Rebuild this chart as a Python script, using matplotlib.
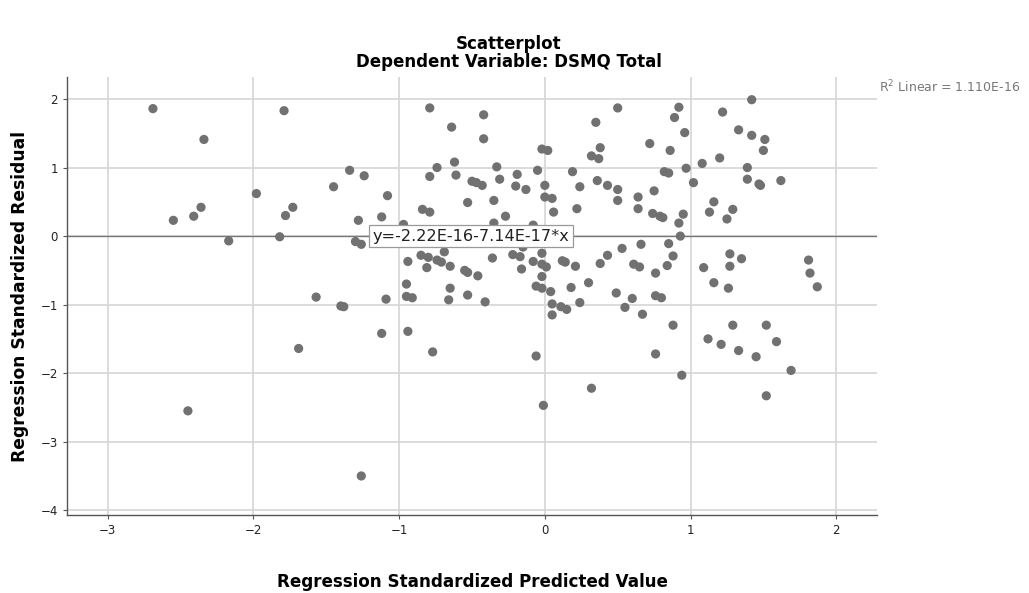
import matplotlib
matplotlib.use("Agg")
import matplotlib.pyplot as plt
import numpy as np

# standardized predicted values (x) and standardized residuals (y)
pred = [
    -2.69, -1.79, -2.34, -1.34, -1.24, -1.45, -1.08, -1.98, -1.73, -1.78,
    -2.36, -2.41, -2.55, -1.28, -1.12, -2.17, -1.82, -1.30, -1.26, -0.97,
    -0.94, -0.95, -0.95, -0.91, -1.57, -1.40, -1.38, -1.09, -1.12, -0.94,
    -1.69, -2.45, -1.26,
    -0.79, -0.42, -0.64, -0.42, 0.50, 0.35, 0.38, 0.32, 0.37, -0.02,
    0.02, -0.62, -0.74, -0.79, -0.61, -0.33, -0.05, 0.19, -0.50, -0.47,
    -0.43, -0.31, -0.19, -0.20, -0.13, 0.00, 0.24, 0.36, 0.43, 0.50,
    0.50, 0.00, 0.05, 0.06, 0.22, -0.53, -0.35, -0.27, -0.84, -0.79,
    -0.35, -0.08, 0.64, 0.64,
    -0.69, -0.85, -0.80, -0.74, -0.71, -0.81, -0.65, -0.55, -0.53, -0.46,
    -0.36, -0.22, -0.17, -0.15, -0.02, -0.08, -0.02, 0.01, -0.16, -0.02,
    -0.06, -0.02, 0.04, 0.05, 0.05, -0.65, -0.66, -0.53, -0.41, -0.77,
    -0.06, -0.01, 0.32,
    0.75, 0.74, 0.79, 0.81, 0.82, 0.85, 0.97, 1.08, 1.02, 1.16,
    1.13, 0.95, 0.92, 0.93, 0.85, 0.88, 0.84, 0.76, 0.66, 0.53,
    0.43, 0.38, 0.61, 0.65, 0.12, 0.14, 0.21, 0.30, 0.18, 0.11,
    0.15, 0.24, 0.49, 0.55, 0.60, 0.67, 0.76, 0.80, 0.88, 1.09,
    1.16, 1.39, 1.39, 1.47, 1.48, 1.62, 1.29, 1.25, 1.27, 1.35,
    1.27, 1.26, 1.81, 1.82, 1.87, 1.29, 1.52, 0.92, 0.89, 0.96,
    0.72, 0.86, 1.42, 1.22, 1.33, 1.42, 1.51, 1.50, 1.20, 0.76,
    0.94, 1.12, 1.21, 1.33, 1.45, 1.59, 1.69, 1.52,
]
resid = [
    1.86, 1.83, 1.41, 0.96, 0.88, 0.72, 0.59, 0.62, 0.42, 0.30,
    0.42, 0.29, 0.23, 0.23, 0.28, -0.07, -0.01, -0.08, -0.12, 0.17,
    -0.37, -0.70, -0.88, -0.90, -0.89, -1.02, -1.03, -0.92, -1.42, -1.39,
    -1.64, -2.55, -3.50,
    1.87, 1.77, 1.59, 1.42, 1.87, 1.66, 1.29, 1.17, 1.13, 1.27,
    1.25, 1.08, 1.00, 0.87, 0.89, 1.01, 0.96, 0.94, 0.80, 0.78,
    0.74, 0.83, 0.90, 0.73, 0.68, 0.74, 0.72, 0.81, 0.74, 0.68,
    0.52, 0.57, 0.55, 0.35, 0.40, 0.49, 0.52, 0.29, 0.39, 0.35,
    0.19, 0.16, 0.57, 0.40,
    -0.23, -0.28, -0.31, -0.35, -0.38, -0.46, -0.44, -0.50, -0.53, -0.58,
    -0.32, -0.27, -0.30, -0.16, -0.25, -0.37, -0.41, -0.45, -0.48, -0.59,
    -0.73, -0.76, -0.81, -0.99, -1.15, -0.76, -0.93, -0.86, -0.96, -1.69,
    -1.75, -2.47, -2.22,
    0.66, 0.33, 0.29, 0.27, 0.94, 0.92, 0.99, 1.06, 0.78, 0.50,
    0.35, 0.32, 0.19, 0.00, -0.11, -0.29, -0.43, -0.54, -0.12, -0.18,
    -0.28, -0.40, -0.41, -0.45, -0.36, -0.38, -0.44, -0.68, -0.75, -1.03,
    -1.07, -0.97, -0.83, -1.04, -0.91, -1.14, -0.87, -0.90, -1.30, -0.46,
    -0.68, 1.00, 0.83, 0.76, 0.74, 0.81, 0.39, 0.25, -0.26, -0.33,
    -0.44, -0.76, -0.35, -0.54, -0.74, -1.30, -1.30, 1.88, 1.73, 1.51,
    1.35, 1.25, 1.99, 1.81, 1.55, 1.47, 1.41, 1.25, 1.14, -1.72,
    -2.03, -1.50, -1.58, -1.67, -1.76, -1.54, -1.96, -2.33,
]

fit_intercept = -2.22e-16
fit_slope = -7.14e-17
fit_label = "y=-2.22E-16-7.14E-17*x"
r2_label = "R$^2$ Linear = 1.110E-16"

x_ticks = [-3, -2, -1, 0, 1, 2]
y_ticks = [2, 1, 0, -1, -2, -3, -4]

plt.rcParams['font.family'] = ['DejaVu Sans']

fig = plt.figure(figsize=(10.29, 5.93), dpi=100)
ax = fig.add_axes([0.0651, 0.1315, 0.7872, 0.7385])

ax.scatter(pred, resid, s=44, color='#717171', edgecolors='none', zorder=3)

xlim = (-3.28, 2.28)
ax.set_xlim(xlim)
ax.set_ylim(-4.07, 2.32)

# fit line across the full width
xs = np.array(xlim)
ax.plot(xs, fit_intercept + fit_slope * xs, color='#777777', lw=1.0, zorder=2)

ax.text(-1.18, 0.0, fit_label, fontsize=11.6, va='center', ha='left',
        color='#222222', zorder=4,
        bbox=dict(boxstyle='square,pad=0.22', fc='white', ec='#999999', lw=0.9))

ax.set_xticks(x_ticks)
ax.set_yticks(y_ticks)
ax.set_xticklabels(["\u2212" + str(abs(t)) if t < 0 else str(t) for t in x_ticks])
ax.set_yticklabels(["\u2212" + str(abs(t)) if t < 0 else str(t) for t in y_ticks])
ax.tick_params(labelsize=8.5, length=3, color='#555555', labelcolor='#222222')
ax.grid(True, color='#d6d6d6', lw=1.2, zorder=0)
ax.set_axisbelow(True)

for side in ['top', 'right']:
    ax.spines[side].set_visible(False)
for side in ['left', 'bottom']:
    ax.spines[side].set_color('#555555')
    ax.spines[side].set_linewidth(1.0)

ax.set_xlabel('Regression Standardized Predicted Value', fontsize=12.1,
              fontweight='bold', labelpad=26)
ax.set_ylabel('Regression Standardized Residual', fontsize=12.3,
              fontweight='bold', labelpad=8)

fig.text(0.4947, 0.925, 'Scatterplot', ha='center', va='center',
         fontsize=12, fontweight='bold')
fig.text(0.4947, 0.895, 'Dependent Variable: DSMQ Total', ha='center',
         va='center', fontsize=12, fontweight='bold')

fig.text(0.854, 0.853, r2_label, ha='left', va='center', fontsize=9,
         color='#777777')

fig.savefig('out.png', dpi=100)
